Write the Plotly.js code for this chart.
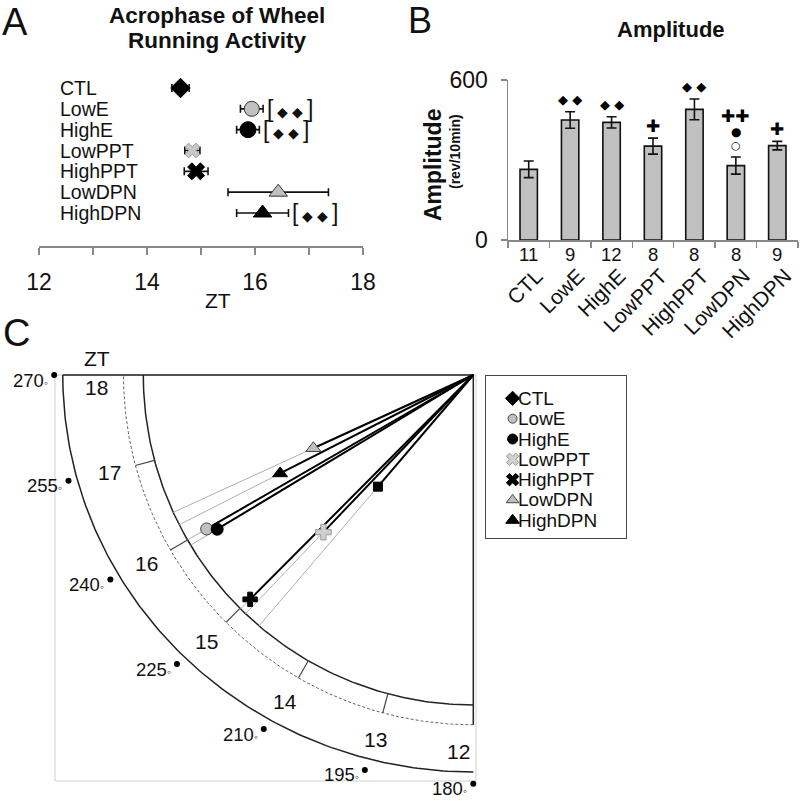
<!DOCTYPE html>
<html><head><meta charset="utf-8">
<script src="https://cdn.plot.ly/plotly-3.0.1.min.js"></script>
<style>html,body{margin:0;padding:0;background:#fff}#chart{width:800px;height:801px}</style>
</head><body><div id="chart"></div>
<script>
// ---------- data ----------
const groups = ['CTL','LowE','HighE','LowPPT','HighPPT','LowDPN','HighDPN'];
// Panel A: acrophase (ZT) mean and SEM
const acroMean = [14.62, 15.94, 15.87, 14.84, 14.91, 16.43, 16.14];
const acroSem  = [0.16, 0.21, 0.21, 0.14, 0.22, 0.93, 0.48];
const acroSig  = ['', '[◆◆]', '[◆◆]', '', '', '', '[◆◆]'];
const acroTicks = [12, 13, 14, 15, 16, 17, 18];
const acroTickText = ['12', '', '14', '', '16', '', '18'];
// Panel B: amplitude (rev/10min)
const ampMean = [265, 450, 441, 352, 490, 279, 354];
const ampSem  = [31, 31, 21, 30, 39, 32, 16];
const nMice   = [11, 9, 12, 8, 8, 8, 9];
const ampSig  = [[], ['◆ ◆'], ['◆ ◆'], ['✚'], ['◆ ◆'], ['✚✚', '●', '○'], ['✚']];
const ampTicks = [0, 600];
// Panel C: mean vector (ZT angle, relative length)
const vecZT = [14.70, 16.00, 15.93, 14.91, 14.99, 16.36, 16.20];
const vecR  = [0.445, 0.933, 0.906, 0.658, 0.959, 0.533, 0.657];
const hourLabels = [12, 13, 14, 15, 16, 17, 18];
const degLabels  = [270, 255, 240, 225, 210, 195, 180];

// ---------- styles ----------
const FONT = 'Liberation Sans, Arial, Helvetica, sans-serif';
const styleA = {
  symbol: ['diamond','circle','circle','x','x','triangle-up','triangle-up'],
  color:  ['#000','#c0c0c0','#000','#c8c8c8','#000','#c0c0c0','#000'],
  line:   ['#000','#333','#000','#999','#000','#333','#000'],
  size:   [15, 15, 16, 13, 15, 16, 16]
};
const styleC = {
  symbol: ['square','circle','circle','cross','cross','triangle-up','triangle-up'],
  color:  ['#000','#c0c0c0','#000','#d0d0d0','#000','#c0c0c0','#000'],
  line:   ['#000','#444','#000','#999','#000','#444','#000'],
  size:   [9, 12, 12, 13, 12, 13, 13]
};
const styleL = {
  symbol: ['diamond','circle','circle','x','x','triangle-up','triangle-up'],
  color:  ['#000','#c0c0c0','#000','#d0d0d0','#000','#c0c0c0','#000'],
  line:   ['#000','#444','#000','#999','#000','#444','#000'],
  size:   [11, 9, 10, 11, 11, 11, 12]
};
const sigFont = {'◆ ◆': 13, '✚': 17, '✚✚': 17, '●': 12, '○': 11};
const sigOffsets = [12, 25, 41];

const PX = x => x / 800, PY = y => 1 - y / 801;
const annotations = [];
const ann = o => annotations.push(Object.assign({showarrow: false, xanchor: 'center', yanchor: 'middle',
  font: {family: FONT, size: 18, color: '#111'}}, o));
const traces = [];

// ---------- Panel A ----------
traces.push({
  type: 'scatter', mode: 'markers', xaxis: 'x', yaxis: 'y',
  x: acroMean, y: groups,
  error_x: {type: 'data', array: acroSem, visible: true, color: '#111', thickness: 1.6, width: 4},
  marker: {symbol: styleA.symbol, color: styleA.color, size: styleA.size, opacity: 1,
           line: {color: styleA.line, width: 1}},
  hoverinfo: 'skip'
});
groups.forEach((g, i) => ann({xref: 'paper', yref: 'y', x: PX(58), y: g, xanchor: 'left',
  text: g, font: {family: FONT, size: 19.5, color: '#111'}}));
acroSig.forEach((s, i) => {
  if (!s) return;
  const inner = s.slice(1, -1).split('').join('\u00A0');
  ann({xref: 'x', yref: 'y', x: acroMean[i] + acroSem[i], y: groups[i], xanchor: 'left', xshift: 2,
    text: '[<span style="font-size:14px">\u00A0' + inner + '\u00A0</span>]', font: {family: FONT, size: 23, color: '#111'}});
});
ann({xref: 'paper', yref: 'paper', x: PX(217), y: PY(15), text: '<b>Acrophase of Wheel</b>', font: {family: FONT, size: 22.5, color: '#111'}});
ann({xref: 'paper', yref: 'paper', x: PX(217), y: PY(40), text: '<b>Running Activity</b>', font: {family: FONT, size: 22.5, color: '#111'}});
ann({xref: 'paper', yref: 'paper', x: PX(218), y: PY(300), text: 'ZT', font: {family: FONT, size: 21, color: '#111'}});
ann({xref: 'paper', yref: 'paper', x: PX(15), y: PY(22), text: 'A', font: {family: FONT, size: 38, color: '#111'}});

// ---------- Panel B ----------
traces.push({
  type: 'bar', xaxis: 'x2', yaxis: 'y2', x: groups, y: ampMean, width: 0.42,
  marker: {color: '#c0c0c0', line: {color: '#111', width: 1.6}},
  error_y: {type: 'data', array: ampSem, visible: true, color: '#111', thickness: 1.6, width: 5},
  hoverinfo: 'skip'
});
ampSig.forEach((stack, i) => {
  stack.slice().reverse().forEach((s, k) => ann({xref: 'x2', yref: 'y2', x: groups[i], y: ampMean[i] + ampSem[i],
    yshift: sigOffsets[k], text: s, font: {family: 'DejaVu Sans, sans-serif', size: sigFont[s], color: '#000'}}));
});
nMice.forEach((n, i) => ann({xref: 'x2', yref: 'paper', x: groups[i], y: PY(254),
  text: String(n), font: {family: FONT, size: 18.5, color: '#111'}}));
ann({xref: 'paper', yref: 'paper', x: PX(671), y: PY(30), text: '<b>Amplitude</b>', font: {family: FONT, size: 22, color: '#111'}});
ann({xref: 'paper', yref: 'paper', x: PX(433), y: PY(165), textangle: -90, text: '<b>Amplitude</b>', font: {family: FONT, size: 23, color: '#111'}});
ann({xref: 'paper', yref: 'paper', x: PX(455), y: PY(152), textangle: -90, text: '<b>(rev/10min)</b>', font: {family: FONT, size: 14, color: '#111'}});
ann({xref: 'paper', yref: 'paper', x: PX(420), y: PY(21), text: 'B', font: {family: FONT, size: 36, color: '#111'}});

// ---------- Panel C ----------
const pol = (zt, rx, ry) => {
  const t = (zt - 12) * 15 * Math.PI / 180;
  return [-rx * Math.sin(t), -(ry === undefined ? rx : ry) * Math.cos(t)];
};
const arc = (rx, ry) => {
  const xs = [], ys = [];
  for (let z = 12; z <= 18.0001; z += 0.04) { const p = pol(z, rx, ry); xs.push(p[0]); ys.push(p[1]); }
  return [xs, ys];
};
const R_IN = 1, R_DASH = 1.06, OUT_RX = 1.244, OUT_RY = 1.203, DOT_RX = 1.27, DOT_RY = 1.239, R_LAB = 1.142;
const lineTrace = (xy, color, width, dash) => ({type: 'scatter', mode: 'lines', xaxis: 'x3', yaxis: 'y3',
  x: xy[0], y: xy[1], line: {color, width, dash: dash || 'solid'}, hoverinfo: 'skip'});
traces.push(lineTrace(arc(R_IN), '#222', 1.5));
traces.push(lineTrace(arc(R_DASH), '#666', 1, '3px,2px'));
traces.push(lineTrace(arc(OUT_RX, OUT_RY), '#222', 1.5));
// edges of the quadrant
traces.push(lineTrace([[pol(18, OUT_RX)[0], 0, 0], [0, 0, pol(12, R_DASH)[1]]], '#222', 1.5));
// hour ticks in the band
{
  const xs = [], ys = [];
  hourLabels.filter(h => h > 12 && h < 18).forEach(h => {
    const a = pol(h, R_IN), b = pol(h, R_DASH);
    xs.push(a[0], b[0], null); ys.push(a[1], b[1], null);
  });
  traces.push(lineTrace([xs, ys], '#444', 1.2));
}
// gray extensions and black vectors
{
  const gx = [], gy = [], bx = [], by = [];
  groups.forEach((g, i) => {
    const p = pol(vecZT[i], vecR[i]), q = pol(vecZT[i], R_IN);
    gx.push(p[0], q[0], null); gy.push(p[1], q[1], null);
    bx.push(0, p[0], null); by.push(0, p[1], null);
  });
  traces.push(lineTrace([gx, gy], '#b0b0b0', 1));
  traces.push(lineTrace([bx, by], '#000', 2));
}
traces.push({type: 'scatter', mode: 'markers', xaxis: 'x3', yaxis: 'y3',
  x: groups.map((g, i) => pol(vecZT[i], vecR[i])[0]), y: groups.map((g, i) => pol(vecZT[i], vecR[i])[1]),
  marker: {symbol: styleC.symbol, color: styleC.color, size: styleC.size, opacity: 1, line: {color: styleC.line, width: 1}},
  hoverinfo: 'skip'});
// degree dots and labels
const degPos = degLabels.map(d => pol(12 + (d - 180) / 15, DOT_RX, DOT_RY));
traces.push({type: 'scatter', mode: 'markers', xaxis: 'x3', yaxis: 'y3',
  x: degPos.map(p => p[0]), y: degPos.map(p => p[1]), marker: {color: '#000', size: 6, opacity: 1}, hoverinfo: 'skip'});
degLabels.forEach((d, i) => ann({xref: 'x3', yref: 'y3', x: degPos[i][0], y: degPos[i][1], xanchor: 'right',
  xshift: -4, yshift: -5, text: d + '<span style="font-size:12px">◦</span>', font: {family: FONT, size: 18.5, color: '#111'}}));
hourLabels.forEach(h => {
  const p = pol(Math.min(Math.max(h, 12.15), 17.87), R_LAB);
  ann({xref: 'x3', yref: 'y3', x: p[0], y: p[1], text: String(h), font: {family: FONT, size: 21, color: '#111'}});
});
ann({xref: 'paper', yref: 'paper', x: PX(97), y: PY(358), text: 'ZT', font: {family: FONT, size: 21, color: '#111'}});
ann({xref: 'paper', yref: 'paper', x: PX(16), y: PY(333), text: 'C', font: {family: FONT, size: 38, color: '#111'}});

// legend (drawn on its own small axis)
traces.push({type: 'scatter', mode: 'markers', xaxis: 'x4', yaxis: 'y4',
  x: groups.map(() => 0.19), y: groups,
  marker: {symbol: styleL.symbol, color: styleL.color, size: styleL.size, opacity: 1, line: {color: styleL.line, width: 1}},
  hoverinfo: 'skip'});
groups.forEach(g => ann({xref: 'x4', yref: 'y4', x: 0.19, y: g, xanchor: 'left', xshift: 3,
  text: g, font: {family: FONT, size: 19, color: '#111'}}));

// ---------- layout ----------
const O_X = 473.3, O_Y = 375, S = 330;
const layout = {
  width: 800, height: 801, margin: {l: 0, r: 0, t: 0, b: 0},
  paper_bgcolor: '#fff', plot_bgcolor: 'rgba(0,0,0,0)', showlegend: false, hovermode: false,
  font: {family: FONT, color: '#111'},
  xaxis: {domain: [PX(39), PX(363)], range: [12, 18], anchor: 'y', tickvals: acroTicks, ticktext: acroTickText,
    ticks: 'outside', ticklen: 7, tickwidth: 1.3, tickcolor: '#888', showline: true, linecolor: '#888', linewidth: 1.5,
    showgrid: false, zeroline: false, tickfont: {size: 23, color: '#111'}, ticklabelstandoff: 8},
  yaxis: {domain: [PY(246), PY(77.6)], type: 'category', categoryarray: groups, range: [7.585, -0.5], anchor: 'x',
    visible: false},
  xaxis2: {domain: [PX(508), PX(798)], type: 'category', categoryarray: groups, range: [-0.5, 6.5], anchor: 'y2',
    tickson: 'boundaries', ticks: 'outside', ticklen: 6, tickcolor: '#888', tickwidth: 1.3, showline: true,
    linecolor: '#888', linewidth: 1.5, showgrid: false, tickangle: -45, tickfont: {size: 21, color: '#111'},
    ticklabelstandoff: 14, ticklabelshift: 8},
  yaxis2: {domain: [PY(240), PY(80)], range: [0, 600], anchor: 'x2', tickvals: ampTicks, ticks: 'outside', ticklen: 6,
    tickcolor: '#888', tickwidth: 1.3, showline: true, linecolor: '#888', linewidth: 1.5, showgrid: false, zeroline: false,
    tickfont: {size: 23, color: '#111'}, ticklabelstandoff: 8},
  xaxis3: {domain: [0, PX(650)], range: [(0 - O_X) / S, (650 - O_X) / S], anchor: 'y3', visible: false},
  yaxis3: {domain: [0, PY(320)], range: [-(801 - O_Y) / S, (O_Y - 320) / S], anchor: 'x3', visible: false},
  xaxis4: {domain: [PX(486), PX(626)], range: [0, 1], anchor: 'y4', showline: true, mirror: true, linecolor: '#444',
    linewidth: 1, showticklabels: false, ticks: '', showgrid: false, zeroline: false},
  yaxis4: {domain: [PY(538), PY(376)], type: 'category', categoryarray: groups, range: [6.87, -1.1], anchor: 'x4',
    showline: true, mirror: true, linecolor: '#444', linewidth: 1, showticklabels: false, ticks: '', showgrid: false,
    zeroline: false},
  shapes: [{type: 'rect', xref: 'x3', yref: 'y3', x0: (55 - O_X) / S, x1: (476 - O_X) / S, y0: -(781 - O_Y) / S, y1: 0,
    line: {color: '#cfcfcf', width: 1}, layer: 'below'}],
  annotations
};
Plotly.newPlot('chart', traces, layout, {staticPlot: true, displayModeBar: false});
</script></body></html>
